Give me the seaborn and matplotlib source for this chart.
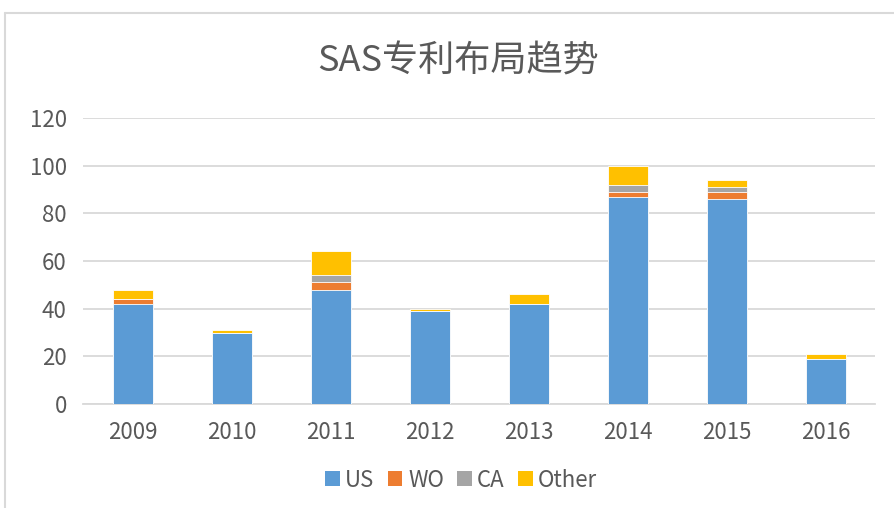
import pandas as pd
import numpy as np
import matplotlib
matplotlib.use('Agg')
import matplotlib.pyplot as plt
import seaborn as sns
from matplotlib.patches import Patch
from matplotlib.lines import Line2D

# data
years = ['2009', '2010', '2011', '2012', '2013', '2014', '2015', '2016']
us = [42, 30, 48, 39, 42, 87, 86, 19]
wo = [2, 0, 3, 0, 0, 2, 3, 0]
ca = [0, 0, 3, 0, 0, 3, 2, 0]
other = [4, 1, 10, 1, 4, 8, 3, 2]

series = ['US', 'WO', 'CA', 'Other']
colors = ['#5B9BD5', '#ED7D31', '#A5A5A5', '#FFC000']

sns.set_theme(style='white')
plt.rcParams['font.family'] = ['Noto Sans CJK SC', 'DejaVu Sans']
plt.rcParams['font.weight'] = 'light'

df = pd.DataFrame({'year': years, 'US': us, 'WO': wo, 'CA': ca, 'Other': other})
cum = df[series].cumsum(axis=1)

fig = plt.figure(figsize=(8.94, 5.08), dpi=100)
ax = fig.add_axes([0.0934, 0.2047, 0.8856, 0.563])

# stacked bars: draw the tallest cumulative layer first
for name, col in zip(reversed(series), reversed(colors)):
    sns.barplot(x=df['year'], y=cum[name], color=col, width=0.4,
                edgecolor='#ffffff', linewidth=0.6, ax=ax, zorder=3,
                saturation=1)

ax.set_ylim(0, 120)
ax.set_xlim(-0.5, 7.5)
ax.set_yticks(range(0, 121, 20))
ax.yaxis.grid(True, color='#d9d9d9', linewidth=1.3, zorder=0)
ax.set_xlabel('')
ax.set_ylabel('')
for s in ['top', 'right', 'left']:
    ax.spines[s].set_visible(False)
ax.spines['bottom'].set_color('#d9d9d9')
ax.spines['bottom'].set_linewidth(1.3)
ax.tick_params(axis='both', length=0, labelsize=16, colors='#595959')
ax.tick_params(axis='x', pad=12)
ax.tick_params(axis='y', pad=12)

fig.text(0.512, 0.878, 'SAS专利布局趋势', ha='center', va='center',
         fontsize=26, color='#595959', fontweight='light')

handles = [Patch(facecolor=c, edgecolor='none') for c in colors]
fig.legend(handles, series, loc='center', bbox_to_anchor=(0.516, 0.055),
           ncol=4, frameon=False, fontsize=16, handlelength=0.65,
           handleheight=0.65, handletextpad=0.25, columnspacing=0.6,
           labelcolor='#595959')

# outer chart frame
fig.add_artist(Line2D([0.006, 1.0], [0.974, 0.974], color='#d9d9d9', lw=1.5))
fig.add_artist(Line2D([0.006, 0.006], [0.0, 0.974], color='#d9d9d9', lw=1.5))

fig.savefig('out.png', dpi=100, facecolor='white')
